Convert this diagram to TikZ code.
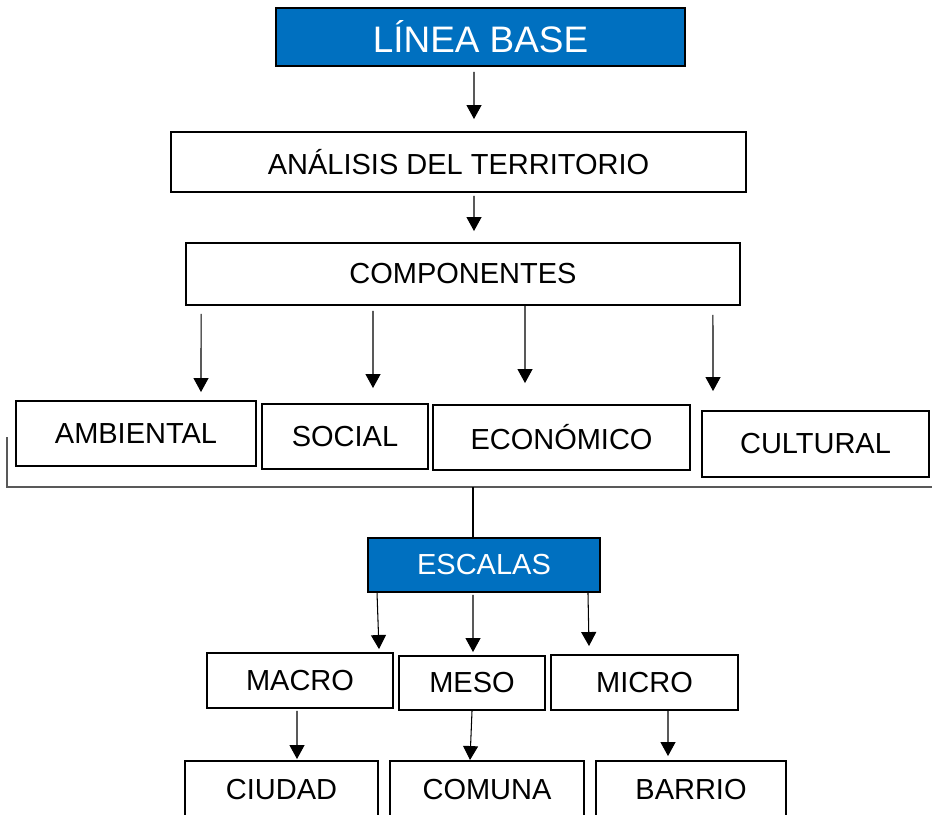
\documentclass[tikz,border=0pt]{standalone}
\usepackage{fontspec}
\setmainfont{Liberation Sans}
\usepackage{xcolor}
\usepackage{tikz}
\usetikzlibrary{arrows.meta}

\definecolor{titleblue}{HTML}{0070C0}

\begin{document}
\begin{tikzpicture}[x=0.02cm, y=-0.02cm]
		% Define styles for the blocks and arrows
		\tikzstyle{block} = [rectangle, draw, line width=1.1pt, text centered, inner sep=0pt, font=\fontsize{16.5}{19}\selectfont]
		\tikzstyle{headblock} = [block, fill=titleblue, text=white]
		\tikzstyle{arrow} = [line width=0.6pt, -{Triangle[width=0.3cm, length=0.28cm]}]
		
		\clip (0,0) rectangle (932,814);
		
		% Define the nodes (blocks)
		\node (base) [headblock, minimum width=8.18cm, minimum height=1.16cm, font=\fontsize{21}{24}\selectfont] at (480.5,37) {LÍNEA BASE};
		\node (analysis) [block, minimum width=11.5cm, minimum height=1.2cm] at (458.5,162) {ANÁLISIS DEL TERRITORIO};
		\node (components) [block, minimum width=11.08cm, minimum height=1.24cm] at (463,274) {COMPONENTES};
		
		\node (environmental) [block, minimum width=4.8cm, minimum height=1.3cm] at (136,433.5) {AMBIENTAL};
		\node (social) [block, minimum width=3.32cm, minimum height=1.3cm] at (345,436.5) {SOCIAL};
		\node (economic) [block, minimum width=5.14cm, minimum height=1.3cm] at (561.5,437.5) {ECONÓMICO};
		\node (cultural) [block, minimum width=4.54cm, minimum height=1.32cm] at (815.5,444) {CULTURAL};
		
		\node (scales) [headblock, minimum width=4.64cm, minimum height=1.08cm] at (484,565) {ESCALAS};
		\node (macro) [block, minimum width=3.72cm, minimum height=1.1cm] at (300,680.5) {MACRO};
		\node (meso) [block, minimum width=2.92cm, minimum height=1.08cm] at (472,683) {MESO};
		\node (micro) [block, minimum width=3.74cm, minimum height=1.1cm] at (644.5,682.5) {MICRO};
		
		\node (city) [block, minimum width=3.86cm, minimum height=1.16cm] at (281.5,790) {CIUDAD};
		\node (commune) [block, minimum width=3.88cm, minimum height=1.16cm] at (487,790) {COMUNA};
		\node (district) [block, minimum width=3.8cm, minimum height=1.16cm] at (691,790) {BARRIO};
		
		% Bracket under the components
		\coordinate (bracketL) at (7,437);
		\coordinate (bracketR) at (932,487);
		\draw [gray!70!black, line width=0.6pt] (bracketL) |- (bracketR);
		\draw [line width=1.1pt] ([xshift=-0.22cm]scales.north) -- ([xshift=-0.22cm]scales.north |- bracketR);
		
		% Draw arrows between the blocks
		\draw [arrow] ([xshift=-0.13cm, yshift=-0.1cm]base.south) -- ([xshift=0.31cm, yshift=0.24cm]analysis.north);
		\draw [arrow] ([xshift=0.31cm, yshift=-0.06cm]analysis.south) -- ([xshift=0.22cm, yshift=0.22cm]components.north);
		
		\draw [arrow] ([xshift=-5.24cm, yshift=-0.16cm]components.south) -- ([xshift=1.3cm, yshift=0.16cm]environmental.north);
		\draw [arrow] ([xshift=-1.8cm, yshift=-0.1cm]components.south) -- ([xshift=0.56cm, yshift=0.3cm]social.north);
		\draw [arrow] ([xshift=1.24cm]components.south) -- ([xshift=-0.73cm, yshift=0.42cm]economic.north);
		\draw [arrow] ([xshift=5cm, yshift=-0.18cm]components.south) -- ([xshift=-2.05cm, yshift=0.38cm]cultural.north);
		
		\draw [arrow] ([xshift=-2.14cm]scales.south) -- ([xshift=1.58cm, yshift=0.06cm]macro.north);
		\draw [arrow] ([xshift=-0.22cm, yshift=-0.04cm]scales.south) -- ([xshift=0.02cm, yshift=0.06cm]meso.north);
		\draw [arrow] ([xshift=2.08cm]scales.south) -- ([xshift=-1.11cm, yshift=0.16cm]micro.north);
		
		\draw [arrow] ([xshift=-0.06cm, yshift=-0.04cm]macro.south) -- ([xshift=0.31cm, yshift=0.02cm]city.north);
		\draw [arrow] (meso.south) -- ([xshift=-0.34cm]commune.north);
		\draw [arrow] ([xshift=0.47cm]micro.south) -- ([xshift=-0.46cm, yshift=0.08cm]district.north);
	\end{tikzpicture}
\end{document}
